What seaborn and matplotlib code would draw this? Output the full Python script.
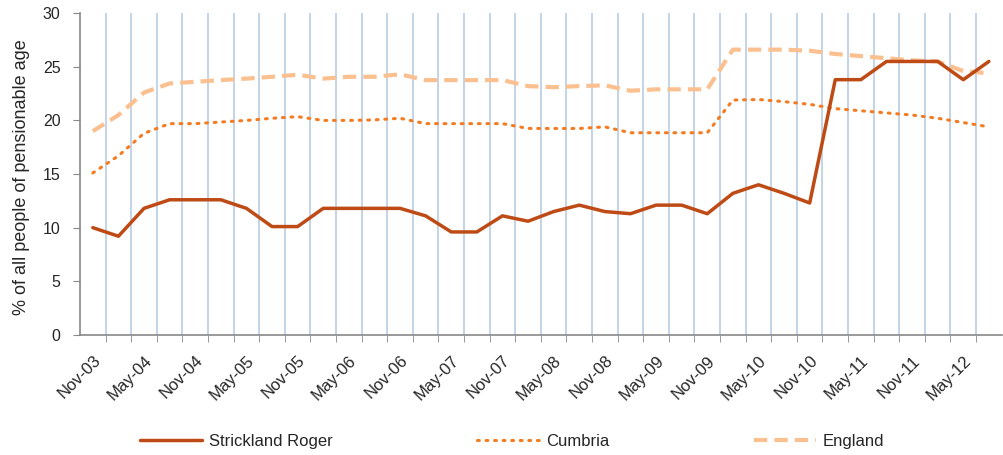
import numpy as np
import pandas as pd
import matplotlib
matplotlib.use("Agg")
import matplotlib.pyplot as plt
import seaborn as sns

# quarterly periods, Nov-03 .. Aug-12
quarters = ["Nov-03", "Feb-04", "May-04", "Aug-04", "Nov-04", "Feb-05", "May-05", "Aug-05",
            "Nov-05", "Feb-06", "May-06", "Aug-06", "Nov-06", "Feb-07", "May-07", "Aug-07",
            "Nov-07", "Feb-08", "May-08", "Aug-08", "Nov-08", "Feb-09", "May-09", "Aug-09",
            "Nov-09", "Feb-10", "May-10", "Aug-10", "Nov-10", "Feb-11", "May-11", "Aug-11",
            "Nov-11", "Feb-12", "May-12", "Aug-12"]

strickland = [10.0, 9.2, 11.8, 12.6, 12.6, 12.6, 11.8, 10.1, 10.1, 11.8, 11.8, 11.8,
              11.8, 11.1, 9.6, 9.6, 11.1, 10.6, 11.5, 12.1, 11.5, 11.3, 12.1, 12.1,
              11.3, 13.2, 14.0, 13.2, 12.3, 23.8, 23.8, 25.5, 25.5, 25.5, 23.8, 25.5]

cumbria = [15.1, 16.7, 18.8, 19.7, 19.7, 19.85, 20.0, 20.2, 20.35, 20.0, 20.0, 20.05,
           20.2, 19.7, 19.7, 19.7, 19.7, 19.25, 19.25, 19.25, 19.4, 18.85, 18.85, 18.85,
           18.85, 21.9, 21.95, 21.75, 21.5, 21.1, 20.9, 20.7, 20.5, 20.2, 19.8, 19.4]

england = [19.0, 20.5, 22.6, 23.45, 23.6, 23.76, 23.9, 24.07, 24.26, 23.9, 24.07, 24.07,
           24.3, 23.76, 23.76, 23.76, 23.76, 23.2, 23.1, 23.2, 23.27, 22.77, 22.9, 22.9,
           22.9, 26.6, 26.6, 26.6, 26.5, 26.2, 26.0, 25.8, 25.6, 25.5, 24.6, 24.4]

tick_labels = quarters[::2]

df = pd.DataFrame({
    "pos": np.arange(len(quarters)),
    "Strickland Roger": strickland,
    "Cumbria": cumbria,
    "England": england,
})

sns.set_style("white")
plt.rcParams['font.family'] = ['Liberation Sans', 'DejaVu Sans']

fig = plt.figure(figsize=(10.04, 4.55), dpi=100)
ax = fig.add_axes([0.0797, 0.264, 0.918, 0.707])

# vertical gridlines at category boundaries
for b in np.arange(len(quarters) - 1) + 0.5:
    ax.axvline(b, color='#b9cde5', lw=1.2, zorder=0)

sns.lineplot(data=df, x="pos", y="England", ax=ax, color='#fac090', lw=3,
             linestyle=(0, (3.2, 1.7)), label="England", zorder=2)
sns.lineplot(data=df, x="pos", y="Cumbria", ax=ax, color='#f47b20', lw=2.2,
             linestyle=(0, (0.6, 2.2)), dash_capstyle='round', label="Cumbria", zorder=3)
sns.lineplot(data=df, x="pos", y="Strickland Roger", ax=ax, color='#be4b15', lw=2.5,
             label="Strickland Roger", zorder=4)

ax.set_xlim(-0.5, len(quarters) - 0.5)
ax.set_ylim(0, 30)
ax.set_yticks(range(0, 31, 5))
ax.set_xticks(np.arange(0, len(quarters), 2))
ax.set_xticklabels(tick_labels, rotation=45, ha='right', rotation_mode='anchor', fontsize=12)
ax.tick_params(axis='y', labelsize=11.5, length=5, color='#888888', direction='out',
               left=True, pad=9)
ax.set_xticks(np.arange(len(quarters) - 1) + 0.5, minor=True)
ax.tick_params(axis='x', which='major', length=0, pad=13)
ax.tick_params(axis='x', which='minor', length=5, color='#888888', direction='out', bottom=True)
ax.set_xlabel("")
ax.set_ylabel("% of all people of pensionable age", fontsize=13)
ax.yaxis.set_label_coords(-0.054, 0.49)

for s in ['top', 'right']:
    ax.spines[s].set_visible(False)
for s in ['left', 'bottom']:
    ax.spines[s].set_color('#888888')
    ax.spines[s].set_linewidth(1.2)

handles, labels = ax.get_legend_handles_labels()
order = [labels.index(n) for n in ["Strickland Roger", "Cumbria", "England"]]
ax.get_legend().remove()
fig.legend([handles[i] for i in order], [labels[i] for i in order],
           loc='center', bbox_to_anchor=(0.51, 0.03), ncol=3, frameon=False,
           fontsize=12, handlelength=3.7, columnspacing=8.7, handletextpad=0.4)

fig.savefig("out.png", dpi=100)
